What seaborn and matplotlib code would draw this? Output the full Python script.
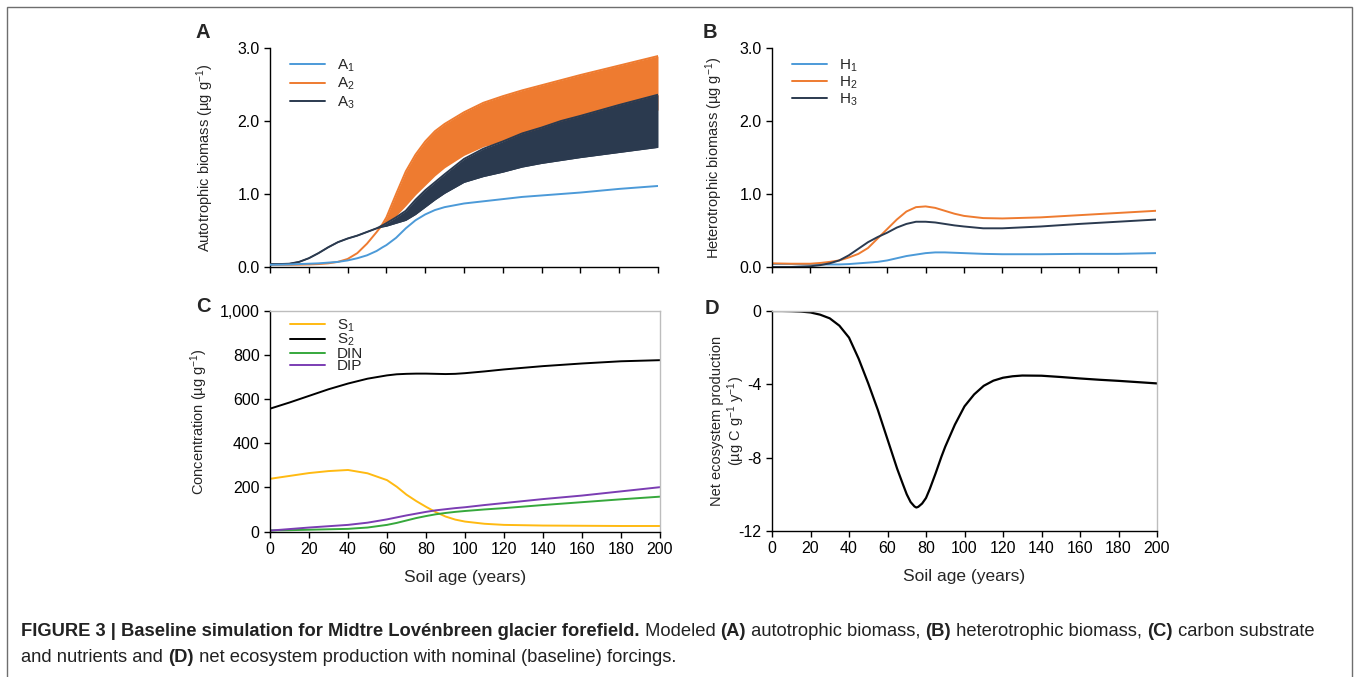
import matplotlib
matplotlib.use("Agg")
import matplotlib.pyplot as plt
from matplotlib.ticker import FuncFormatter
from matplotlib.patches import Rectangle
import seaborn as sns

# ---------------- model output (soil age in years) ----------------
# (A) autotrophic biomass, ug g-1; A2 and A3 swing seasonally between lo/hi
years_a = [0, 5, 10, 15, 20, 25, 30, 35, 40, 45, 50, 55, 58, 60, 65, 70, 75,
           80, 85, 90, 100, 110, 120, 130, 140, 150, 160, 180, 200]
a1 = [0.03, 0.032, 0.035, 0.04, 0.045, 0.05, 0.06, 0.07, 0.09, 0.12, 0.16,
      0.22, 0.27, 0.30, 0.40, 0.53, 0.64, 0.72, 0.78, 0.82, 0.87, 0.90, 0.93,
      0.96, 0.98, 1.00, 1.02, 1.07, 1.11]
a2_hi = [0.03, 0.03, 0.03, 0.032, 0.035, 0.04, 0.05, 0.07, 0.11, 0.19, 0.32,
         0.48, 0.59, 0.68, 1.00, 1.31, 1.54, 1.72, 1.86, 1.96, 2.12, 2.25,
         2.34, 2.42, 2.49, 2.56, 2.63, 2.76, 2.89]
a2_lo = [0.03, 0.03, 0.03, 0.032, 0.035, 0.04, 0.05, 0.07, 0.11, 0.19, 0.32,
         0.48, 0.57, 0.60, 0.70, 0.84, 0.99, 1.12, 1.25, 1.36, 1.53, 1.65,
         1.72, 1.79, 1.85, 1.90, 1.95, 2.05, 2.15]
a3_hi = [0.04, 0.04, 0.045, 0.07, 0.12, 0.19, 0.27, 0.34, 0.39, 0.43, 0.48,
         0.53, 0.57, 0.60, 0.68, 0.77, 0.92, 1.05, 1.16, 1.27, 1.48, 1.62,
         1.72, 1.83, 1.91, 2.00, 2.07, 2.22, 2.36]
a3_lo = [0.04, 0.04, 0.045, 0.07, 0.12, 0.19, 0.27, 0.34, 0.39, 0.43, 0.48,
         0.53, 0.55, 0.56, 0.60, 0.64, 0.72, 0.82, 0.92, 1.01, 1.16, 1.24,
         1.30, 1.37, 1.42, 1.46, 1.50, 1.57, 1.64]

# (B) heterotrophic biomass, ug g-1
years_h = [0, 10, 20, 25, 30, 35, 40, 45, 50, 55, 60, 65, 70, 75, 80, 85, 90,
           95, 100, 110, 120, 140, 160, 180, 200]
h1 = [0.04, 0.04, 0.035, 0.035, 0.035, 0.035, 0.04, 0.05, 0.06, 0.07, 0.09,
      0.12, 0.15, 0.17, 0.19, 0.20, 0.20, 0.195, 0.19, 0.18, 0.175, 0.175,
      0.18, 0.18, 0.19]
h2 = [0.05, 0.045, 0.045, 0.055, 0.07, 0.09, 0.13, 0.18, 0.26, 0.39, 0.52,
      0.65, 0.76, 0.82, 0.83, 0.81, 0.77, 0.73, 0.70, 0.67, 0.665, 0.68, 0.71,
      0.74, 0.77]
h3 = [0.0, 0.0, 0.01, 0.025, 0.05, 0.09, 0.16, 0.25, 0.34, 0.41, 0.47, 0.54,
      0.59, 0.62, 0.62, 0.61, 0.59, 0.57, 0.555, 0.53, 0.53, 0.555, 0.59,
      0.62, 0.65]

# (C) carbon substrates and nutrients, ug g-1
years_c = [0, 10, 20, 30, 40, 50, 60, 65, 70, 75, 80, 85, 90, 95, 100, 110,
           120, 140, 160, 180, 200]
s1 = [239, 252, 265, 274, 279, 264, 233, 203, 167, 138, 112, 88, 68, 54, 45,
      35, 30, 27, 26, 25, 25]
s2 = [557, 585, 615, 645, 671, 693, 708, 713, 715, 716, 716, 715, 714, 715,
      718, 726, 735, 750, 762, 772, 777]
din = [5, 6, 8, 10, 12, 18, 30, 39, 50, 61, 70, 78, 84, 89, 93, 100, 106, 120,
       133, 146, 158]
dip = [4, 11, 18, 24, 30, 40, 55, 64, 73, 81, 89, 96, 101, 106, 110, 120,
       129, 147, 163, 182, 201]

# (D) net ecosystem production, ug C g-1 y-1
years_d = [0, 5, 10, 15, 20, 25, 30, 35, 40, 45, 50, 55, 60, 65, 68, 70, 72,
           74, 75, 76, 78, 80, 82, 85, 88, 90, 95, 100, 105, 110, 115, 120,
           125, 130, 140, 150, 160, 170, 180, 190, 200]
nep = [0.0, 0.0, -0.01, -0.03, -0.08, -0.2, -0.4, -0.8, -1.45, -2.6, -3.95,
       -5.4, -7.0, -8.6, -9.45, -10.0, -10.42, -10.66, -10.72, -10.68, -10.5,
       -10.2, -9.7, -8.85, -7.95, -7.4, -6.2, -5.2, -4.55, -4.08, -3.8, -3.64,
       -3.56, -3.52, -3.53, -3.6, -3.68, -3.75, -3.81, -3.88, -3.95]

x_ticks = list(range(0, 201, 20))

# ---------------- styling ----------------
sns.set_theme(style="ticks")
body_font = "Liberation Sans"
plt.rcParams.update({
    "font.family": [body_font, "DejaVu Sans"],
    "mathtext.fontset": "custom",
    "mathtext.rm": body_font,
    "mathtext.it": body_font + ":italic",
    "mathtext.bf": body_font + ":bold",
    "axes.unicode_minus": False,
    "axes.linewidth": 1.0,
    "axes.edgecolor": "black",
    "xtick.color": "black",
    "ytick.color": "black",
    "xtick.direction": "out",
    "ytick.direction": "out",
    "xtick.major.size": 4,
    "ytick.major.size": 4,
    "xtick.major.width": 1.0,
    "ytick.major.width": 1.0,
    "xtick.labelsize": 11.5,
    "ytick.labelsize": 11.5,
})

BLUE = "#4c9ad8"
ORANGE = "#ee7b30"
NAVY = "#2b3a4f"
YELLOW = "#ffba12"
GREEN = "#36a83c"
PURPLE = "#7b3db3"

W, H = 1358, 677
fig = plt.figure(figsize=(W / 100, H / 100), dpi=100)


def add_axes_px(left, top, right, bottom):
    return fig.add_axes([left / W, 1 - bottom / H, (right - left) / W, (bottom - top) / H])


ax_a = add_axes_px(270, 48, 658, 267)
ax_b = add_axes_px(772, 48, 1156, 267)
ax_c = add_axes_px(270, 311, 660, 531.5)
ax_d = add_axes_px(772, 311, 1157, 531)

unit = "(\u00b5g g$^{-1}$)"
LW = 1.4

# --- A: autotrophs (seasonal swing drawn as a filled envelope) ---
sns.lineplot(x=years_a, y=a1, ax=ax_a, color=BLUE, lw=LW, label=r"A$_1$", zorder=5)
ax_a.fill_between(years_a, a2_lo, a2_hi, color=ORANGE, lw=0, zorder=2)
sns.lineplot(x=years_a, y=a2_hi, ax=ax_a, color=ORANGE, lw=LW, label=r"A$_2$", zorder=2.1)
ax_a.fill_between(years_a, a3_lo, a3_hi, color=NAVY, lw=0, zorder=3)
sns.lineplot(x=years_a, y=a3_hi, ax=ax_a, color=NAVY, lw=LW, label=r"A$_3$", zorder=3.1)
sns.lineplot(x=years_a, y=a3_lo, ax=ax_a, color=NAVY, lw=1.0, zorder=3.1)

# --- B: heterotrophs ---
sns.lineplot(x=years_h, y=h1, ax=ax_b, color=BLUE, lw=LW, label=r"H$_1$")
sns.lineplot(x=years_h, y=h2, ax=ax_b, color=ORANGE, lw=LW, label=r"H$_2$")
sns.lineplot(x=years_h, y=h3, ax=ax_b, color=NAVY, lw=LW, label=r"H$_3$")

# --- C: substrates and nutrients ---
sns.lineplot(x=years_c, y=s1, ax=ax_c, color=YELLOW, lw=LW, label=r"S$_1$")
sns.lineplot(x=years_c, y=s2, ax=ax_c, color="black", lw=LW, label=r"S$_2$")
sns.lineplot(x=years_c, y=din, ax=ax_c, color=GREEN, lw=LW, label="DIN")
sns.lineplot(x=years_c, y=dip, ax=ax_c, color=PURPLE, lw=LW, label="DIP")

# --- D: net ecosystem production ---
sns.lineplot(x=years_d, y=nep, ax=ax_d, color="black", lw=1.6)

for ax in (ax_a, ax_b, ax_c, ax_d):
    ax.set_xlim(0, 200)
    ax.set_xticks(x_ticks)

for ax in (ax_a, ax_b):
    ax.set_ylim(0, 3.0)
    ax.set_yticks([0, 1, 2, 3])
    ax.yaxis.set_major_formatter(FuncFormatter(lambda v, p: f"{v:.1f}"))
    ax.tick_params(axis="x", labelbottom=False)
    ax.spines[["top", "right"]].set_visible(False)
    ax.set_xlabel("")

for ax in (ax_c, ax_d):
    for s in ("top", "right"):
        ax.spines[s].set_color("#bdbdbd")
        ax.spines[s].set_linewidth(1.0)
    ax.set_xlabel("Soil age (years)", fontsize=12.5)
    ax.xaxis.set_label_coords(0.5, -0.175)

ax_c.set_ylim(0, 1000)
ax_c.set_yticks([0, 200, 400, 600, 800, 1000])
ax_c.yaxis.set_major_formatter(FuncFormatter(lambda v, p: f"{v:,.0f}"))
ax_d.set_ylim(-12, 0)
ax_d.set_yticks([0, -4, -8, -12])

ax_a.set_ylabel("Autotrophic biomass " + unit, fontsize=10.5)
ax_b.set_ylabel("Heterotrophic biomass " + unit, fontsize=10.5)
ax_c.set_ylabel("Concentration " + unit, fontsize=10.5)
ax_d.set_ylabel("Net ecosystem production\n(\u00b5g C g$^{-1}$ y$^{-1}$)", fontsize=10.5,
                linespacing=1.1)
ax_a.yaxis.set_label_coords(-0.139, 0.5)
ax_b.yaxis.set_label_coords(-0.122, 0.5)
ax_c.yaxis.set_label_coords(-0.154, 0.5)
ax_d.yaxis.set_label_coords(-0.065, 0.5)

leg_kw = dict(loc="upper left", frameon=False, fontsize=11, handlelength=2.3,
              handletextpad=0.8, borderaxespad=0.0)
ax_a.legend(bbox_to_anchor=(0.035, 0.985), labelspacing=0.15, **leg_kw)
ax_b.legend(bbox_to_anchor=(0.035, 0.985), labelspacing=0.05, **leg_kw)
ax_c.legend(bbox_to_anchor=(0.035, 1.0), labelspacing=-0.1, **leg_kw)

# panel letters
for letter, (px, py) in {"A": (196, 33), "B": (703, 33),
                         "C": (196, 306), "D": (705, 308)}.items():
    fig.text(px / W, 1 - py / H, letter, fontsize=14.5, fontweight="bold",
             ha="left", va="center")

# outer frame
fig.patches.append(Rectangle((7 / W, -0.05), (1352 - 7) / W, 1.05 - 7 / H,
                             transform=fig.transFigure, fill=False,
                             edgecolor="#6e6e6e", lw=1.0))

# caption
cap_kw = dict(fontsize=13.25, ha="left", va="center", color="#222222")
line1 = [("FIGURE 3 | Baseline simulation for Midtre Lovénbreen glacier forefield.", "bold"),
         (" Modeled ", "normal"), ("(A)", "bold"), (" autotrophic biomass, ", "normal"),
         ("(B)", "bold"), (" heterotrophic biomass, ", "normal"), ("(C)", "bold"),
         (" carbon substrate", "normal")]
line2 = [("and nutrients and ", "normal"), ("(D)", "bold"),
         (" net ecosystem production with nominal (baseline) forcings.", "normal")]

fig.canvas.draw()
renderer = fig.canvas.get_renderer()
for segs, ypx in ((line1, 632), (line2, 658)):
    xpx = 21.0
    for txt, wgt in segs:
        t = fig.text(xpx / W, 1 - ypx / H, txt, fontweight=wgt, **cap_kw)
        bb = t.get_window_extent(renderer=renderer)
        xpx += bb.width

fig.savefig("out.png", dpi=100)
